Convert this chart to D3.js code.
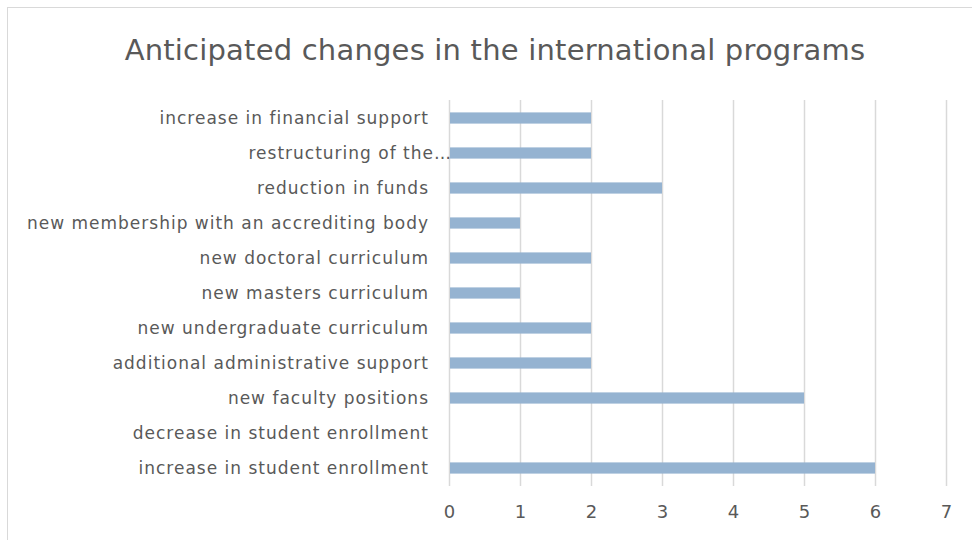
<!DOCTYPE html>
<html><head><meta charset="utf-8">
<script src="https://cdn.jsdelivr.net/npm/d3@7"></script>
<style>body{margin:0;background:#fff;}svg{display:block;}</style>
</head><body>
<svg id="c" width="972" height="540"></svg>
<script>
const categories = [
  "increase in financial support",
  "restructuring of the…",
  "reduction in funds",
  "new membership with an accrediting body",
  "new doctoral curriculum",
  "new masters curriculum",
  "new undergraduate curriculum",
  "additional administrative support",
  "new faculty positions",
  "decrease in student enrollment",
  "increase in student enrollment"
];
const values = [2, 2, 3, 1, 2, 1, 2, 2, 5, 0, 6];
const xTicks = [0, 1, 2, 3, 4, 5, 6, 7];
const title = "Anticipated changes in the international programs";

const svg = d3.select("#c");
const font = "'DejaVu Sans', sans-serif";
const textColor = "#595959";

svg.append("rect").attr("x", 7.5).attr("y", 7.5).attr("width", 980).attr("height", 560)
  .attr("fill", "#fff").attr("stroke", "#d9d9d9").attr("stroke-width", 1);

const x = d3.scaleLinear().domain([0, 7]).range([449, 946]);
const y = d3.scaleBand().domain(categories).range([100.5, 485.5]).paddingInner(0.68).paddingOuter(0.34);

const g = svg.append("g");
g.selectAll("line.grid").data(xTicks).join("line")
  .attr("x1", d => Math.round(x(d)) + 0.5).attr("x2", d => Math.round(x(d)) + 0.5)
  .attr("y1", 100).attr("y2", 486)
  .attr("stroke", "#d9d9d9").attr("stroke-width", 1.5);

g.selectAll("rect.bar").data(values).join("rect")
  .attr("x", x(0) + 1)
  .attr("y", (d, i) => y(categories[i]))
  .attr("width", d => Math.max(0, x(d) - x(0) - 1))
  .attr("height", y.bandwidth())
  .attr("fill", "#95b3d1");

g.selectAll("text.cat").data(categories).join("text")
  .attr("x", d => d.endsWith("…") ? 452 : 429)
  .attr("y", d => y(d) + y.bandwidth() / 2)
  .attr("dy", "0.35em")
  .attr("text-anchor", "end")
  .attr("font-family", font).attr("font-size", 17)
  .attr("letter-spacing", 1)
  .attr("fill", textColor)
  .text(d => d);

const xAxis = d3.axisBottom(x).tickValues(xTicks).tickFormat(d3.format("d")).tickSize(0).tickPadding(0);
const ax = svg.append("g").attr("transform", "translate(0,512)").call(xAxis);
ax.select(".domain").remove();
ax.selectAll("text").attr("font-family", font).attr("font-size", 18).attr("fill", textColor).attr("dy", "0.35em");

svg.append("text").attr("x", 495).attr("y", 50).attr("dy", "0.35em")
  .attr("text-anchor", "middle").attr("font-family", font).attr("font-size", 29)
  .attr("letter-spacing", 0.2)
  .attr("fill", textColor).text(title);
</script>
</body></html>
